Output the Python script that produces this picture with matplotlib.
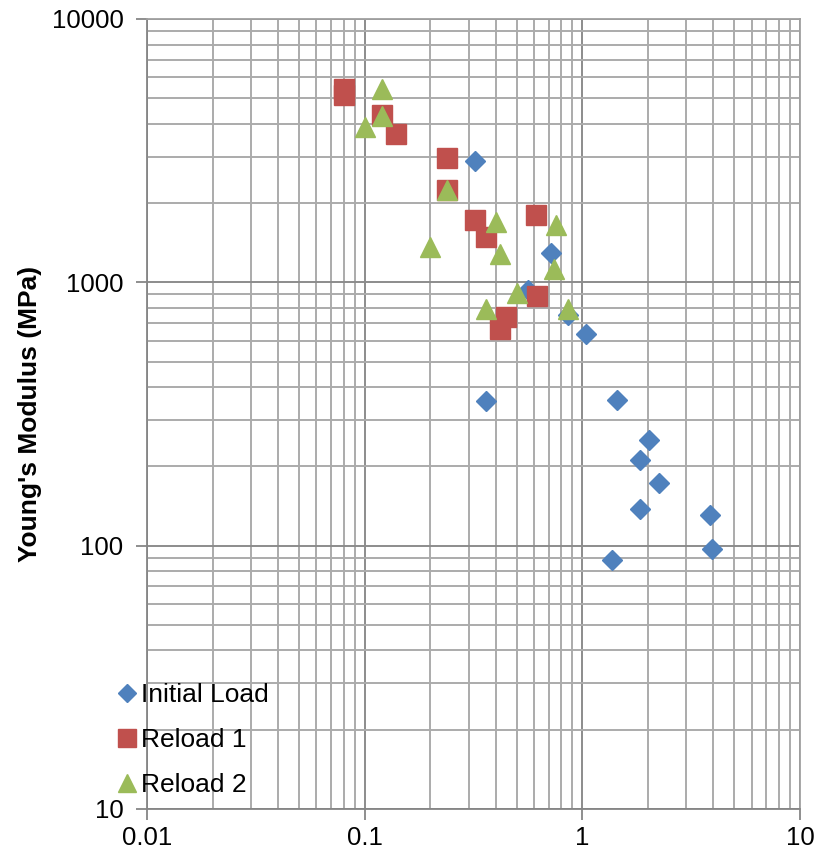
import matplotlib
matplotlib.use("Agg")
import matplotlib.pyplot as plt
from matplotlib.ticker import LogLocator, FixedLocator, FixedFormatter

plt.rcParams['font.family'] = ['Liberation Sans', 'DejaVu Sans']

# strain-rate / stress level vs modulus for the three load stages
initial_x = [0.32, 0.72, 0.56, 0.86, 1.04, 0.36, 1.45, 2.03, 1.84, 2.25, 1.85, 3.87, 3.93, 1.37]
initial_y = [2900, 1290, 935, 751, 634, 355, 357, 253, 211, 173, 138, 131, 97, 88]

reload1_x = [0.08, 0.08, 0.12, 0.14, 0.24, 0.24, 0.32, 0.36, 0.61, 0.62, 0.445, 0.42]
reload1_y = [5420, 5150, 4320, 3660, 2960, 2240, 1725, 1490, 1800, 890, 740, 663]

reload2_x = [0.12, 0.12, 0.10, 0.24, 0.20, 0.40, 0.42, 0.76, 0.74, 0.50, 0.36, 0.86]
reload2_y = [5410, 4300, 3900, 2240, 1360, 1694, 1284, 1650, 1125, 914, 789, 795]

fig = plt.figure(figsize=(8.2, 8.52), dpi=100)
ax = fig.add_axes([147 / 820, 1 - 809 / 852, 653 / 820, 790 / 852])

ax.set_xscale('log')
ax.set_yscale('log')
ax.set_xlim(0.01, 10)
ax.set_ylim(10, 10000)

ax.plot(initial_x, initial_y, linestyle='none', marker='D', markersize=10,
        color='#4F81BD', label='Initial Load', zorder=3)
ax.plot(reload1_x, reload1_y, linestyle='none', marker='s', markersize=14,
        color='#C0504D', label='Reload 1', zorder=4)
ax.plot(reload2_x, reload2_y, linestyle='none', marker='^', markersize=14,
        color='#9BBB59', label='Reload 2', zorder=5)

xt = [0.01, 0.1, 1, 10]
yt = [10, 100, 1000, 10000]
ax.xaxis.set_major_locator(FixedLocator(xt))
ax.xaxis.set_major_formatter(FixedFormatter(['0.01', '0.1', '1', '10']))
ax.yaxis.set_major_locator(FixedLocator(yt))
ax.yaxis.set_major_formatter(FixedFormatter(['10', '100', '1000', '10000']))
ax.xaxis.set_minor_locator(LogLocator(base=10, subs=range(2, 10)))
ax.yaxis.set_minor_locator(LogLocator(base=10, subs=range(2, 10)))
ax.tick_params(which='minor', length=0)
ax.tick_params(which='major', length=8, width=1.3, color='#868686',
               labelsize=18.5)
ax.tick_params(axis='y', pad=9)
ax.tick_params(axis='x', pad=4)

ax.grid(which='major', color='#8c8c8c', linewidth=1.4, zorder=0)
ax.grid(which='minor', color='#ababab', linewidth=1.4, zorder=0)
ax.set_axisbelow(True)
for s in ax.spines.values():
    s.set_color('#a0a0a0')
    s.set_linewidth(1.3)
ax.spines['left'].set_color('#868686')
ax.spines['bottom'].set_color('#868686')

ax.set_ylabel("Young's Modulus (MPa)", fontsize=19, fontweight='bold', labelpad=7)

fig.legend(loc='lower left', bbox_to_anchor=(101 / 820, 1 - 808 / 852),
           frameon=False, fontsize=19, handletextpad=-0.1, labelspacing=0.8,
           borderaxespad=0, handlelength=1.2, markerscale=0.9)

fig.savefig('out.png', dpi=100)
